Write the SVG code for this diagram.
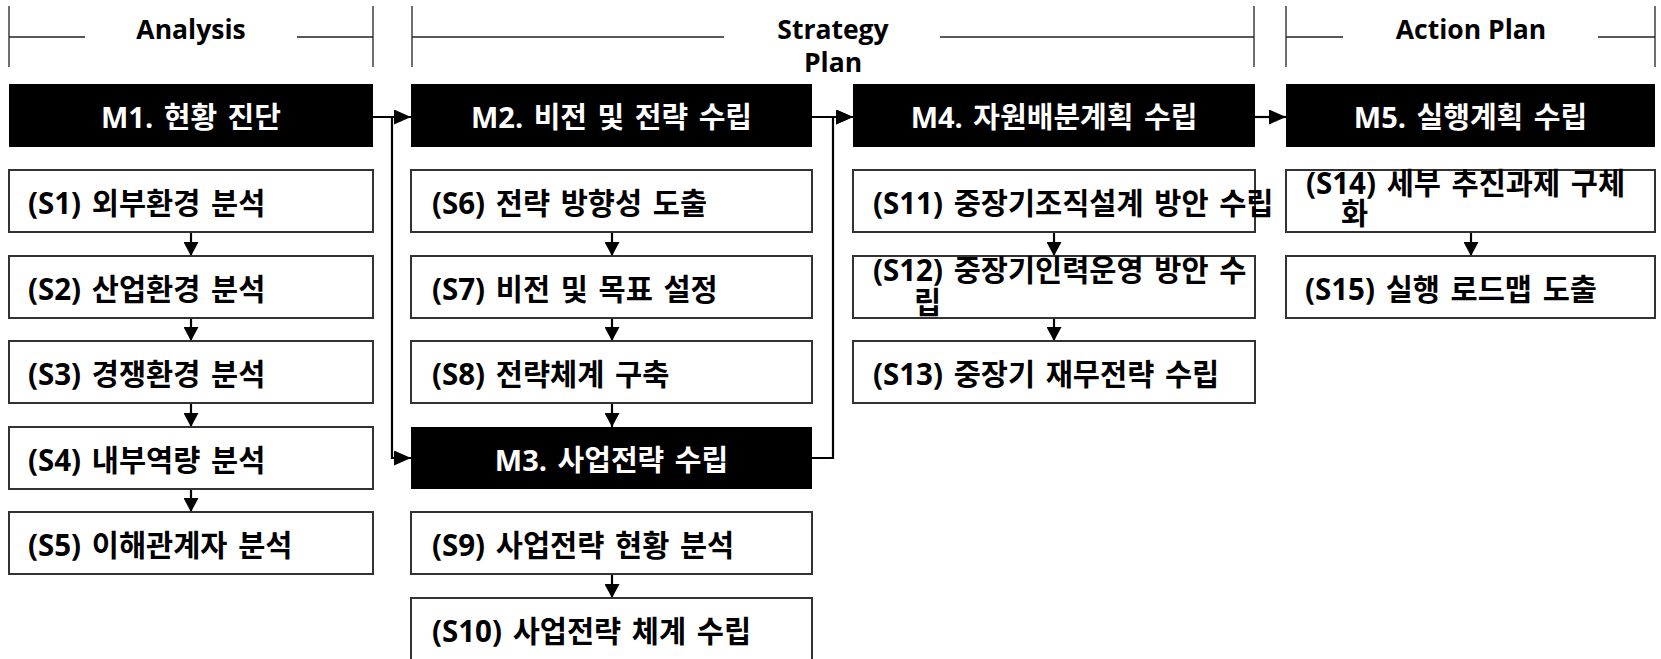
<svg xmlns="http://www.w3.org/2000/svg" width="1661" height="659" viewBox="0 0 1661 659">
<style>
  text { font-family: "Open Sans", "Noto Sans CJK KR", sans-serif; font-weight: bold; }
  .hdr { font-size: 26.5px; fill: #000; text-anchor: middle; }
  .hl { stroke: #222; stroke-width: 1.3; fill: none; }
  .m rect { fill: #000; }
  .m text { fill: #fff; font-size: 29px; text-anchor: middle; word-spacing: 3px; }
  .s rect { fill: #fff; stroke: #333; stroke-width: 2; }
  .s text { fill: #000; font-size: 29.5px; word-spacing: 3px; }
  .c { stroke: #000; stroke-width: 2.2; fill: none; }
</style>
<defs>
  <marker id="ah" markerUnits="userSpaceOnUse" markerWidth="17" markerHeight="15" refX="17" refY="7.5" orient="auto">
    <path d="M0,0 L17,7.5 L0,15 Z" fill="#000"/>
  </marker>
  <marker id="av" markerUnits="userSpaceOnUse" markerWidth="14" markerHeight="15" refX="14" refY="7.5" orient="auto">
    <path d="M0,0 L14,7.5 L0,15 Z" fill="#000"/>
  </marker>
</defs>

<g id="header-analysis">
  <path class="hl" d="M9 6 V67 M373 6 V67 M9 37 H85 M297 37 H373"/>
  <text class="hdr" x="191" y="38.5">Analysis</text>
</g>
<g id="header-strategy">
  <path class="hl" d="M412 6 V67 M1254 6 V67 M412 37 H724 M940 37 H1254"/>
  <text class="hdr" x="833" y="39">Strategy</text>
  <text class="hdr" x="833" y="72">Plan</text>
</g>
<g id="header-action">
  <path class="hl" d="M1286 6 V67 M1655 6 V67 M1286 37 H1343 M1598 37 H1655"/>
  <text class="hdr" x="1471" y="38.5">Action Plan</text>
</g>

<g id="connectors">
  <path class="c" d="M373 117 H411" marker-end="url(#ah)"/>
  <path class="c" d="M392 117 V458 H411" marker-end="url(#ah)"/>
  <path class="c" d="M812 117 H853" marker-end="url(#ah)"/>
  <path class="c" d="M812 458 H833 V117 H853" marker-end="url(#ah)"/>
  <path class="c" d="M1255 117 H1286" marker-end="url(#ah)"/>
  <path class="c" d="M191 232 V256" marker-end="url(#av)"/>
  <path class="c" d="M191 318 V341" marker-end="url(#av)"/>
  <path class="c" d="M191 403 V427" marker-end="url(#av)"/>
  <path class="c" d="M191 489 V512" marker-end="url(#av)"/>
  <path class="c" d="M612 232 V256" marker-end="url(#av)"/>
  <path class="c" d="M612 318 V341" marker-end="url(#av)"/>
  <path class="c" d="M612 403 V427" marker-end="url(#av)"/>
  <path class="c" d="M612 574 V598" marker-end="url(#av)"/>
  <path class="c" d="M1054 232 V256" marker-end="url(#av)"/>
  <path class="c" d="M1054 318 V341" marker-end="url(#av)"/>
  <path class="c" d="M1471 232 V256" marker-end="url(#av)"/>
</g>

<g id="M1" class="m"><rect x="9" y="84" width="364" height="63"/><text x="191" y="128">M1. 현황 진단</text></g>
<g id="M2" class="m"><rect x="411" y="84" width="401" height="63"/><text x="611.5" y="128">M2. 비전 및 전략 수립</text></g>
<g id="M3" class="m"><rect x="411" y="427" width="401" height="62"/><text x="611.5" y="471">M3. 사업전략 수립</text></g>
<g id="M4" class="m"><rect x="853" y="84" width="402" height="63"/><text x="1054" y="128">M4. 자원배분계획 수립</text></g>
<g id="M5" class="m"><rect x="1286" y="84" width="369" height="63"/><text x="1470.5" y="128">M5. 실행계획 수립</text></g>

<g id="S1" class="s"><rect x="9" y="170" width="364" height="62"/><text x="28" y="214">(S1) 외부환경 분석</text></g>
<g id="S2" class="s"><rect x="9" y="256" width="364" height="62"/><text x="28" y="300">(S2) 산업환경 분석</text></g>
<g id="S3" class="s"><rect x="9" y="341" width="364" height="62"/><text x="28" y="385">(S3) 경쟁환경 분석</text></g>
<g id="S4" class="s"><rect x="9" y="427" width="364" height="62"/><text x="28" y="471">(S4) 내부역량 분석</text></g>
<g id="S5" class="s"><rect x="9" y="512" width="364" height="62"/><text x="28" y="556">(S5) 이해관계자 분석</text></g>

<g id="S6" class="s"><rect x="411" y="170" width="401" height="62"/><text x="432" y="214">(S6) 전략 방향성 도출</text></g>
<g id="S7" class="s"><rect x="411" y="256" width="401" height="62"/><text x="432" y="300">(S7) 비전 및 목표 설정</text></g>
<g id="S8" class="s"><rect x="411" y="341" width="401" height="62"/><text x="432" y="385">(S8) 전략체계 구축</text></g>
<g id="S9" class="s"><rect x="411" y="512" width="401" height="62"/><text x="432" y="556">(S9) 사업전략 현황 분석</text></g>
<g id="S10" class="s"><rect x="411" y="598" width="401" height="62"/><text x="432" y="642">(S10) 사업전략 체계 수립</text></g>

<g id="S11" class="s"><rect x="853" y="170" width="402" height="62"/><text x="873" y="214">(S11) 중장기조직설계 방안 수립</text></g>
<g id="S12" class="s"><rect x="853" y="256" width="402" height="62"/><text x="873" y="281">(S12) 중장기인력운영 방안 수</text><text x="914" y="313">립</text></g>
<g id="S13" class="s"><rect x="853" y="341" width="402" height="62"/><text x="873" y="385">(S13) 중장기 재무전략 수립</text></g>

<g id="S14" class="s"><rect x="1286" y="170" width="369" height="62"/><text x="1306" y="194">(S14) 세부 추진과제 구체</text><text x="1341" y="224">화</text></g>
<g id="S15" class="s"><rect x="1286" y="256" width="369" height="62"/><text x="1305" y="300">(S15) 실행 로드맵 도출</text></g>
</svg>
